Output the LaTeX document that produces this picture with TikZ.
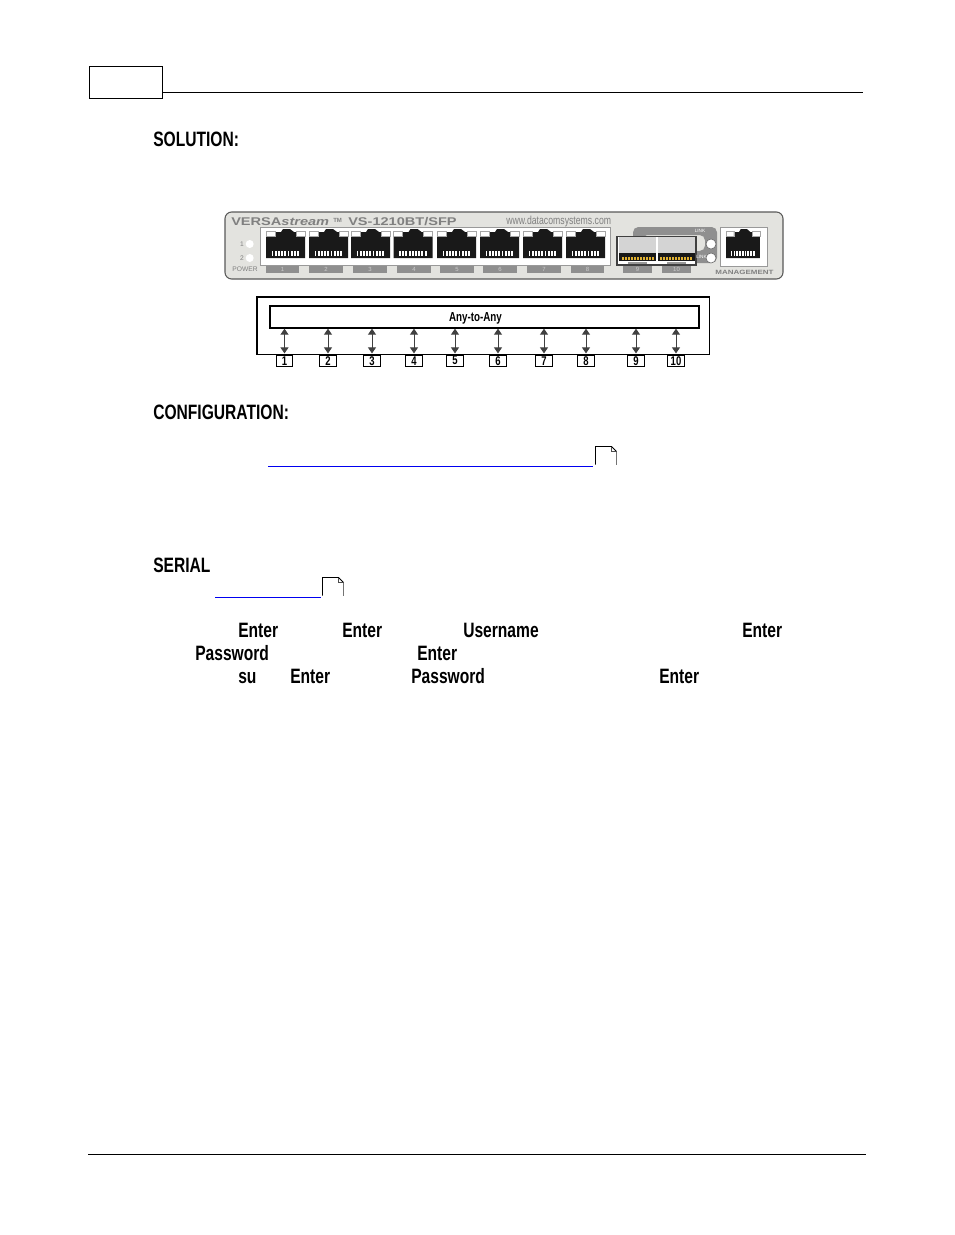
\documentclass[tikz,border=0pt]{standalone}
\usepackage{fontspec}
\setmainfont{Liberation Sans}
\newfontfamily\condf[FakeStretch=0.75]{Liberation Sans}
\newfontfamily\widef[FakeStretch=1.3]{Liberation Sans}
\usetikzlibrary{arrows.meta}
\definecolor{devfill}{HTML}{E3E3DF}
\definecolor{devtext}{HTML}{808080}
\definecolor{tabgrey}{HTML}{8F8F8F}
\definecolor{linkblue}{HTML}{0000F0}
\definecolor{gold}{HTML}{E0B030}
\tikzset{
  heading/.style={anchor=base west,inner sep=0pt,font=\condf\bfseries\fontsize{15.6}{18}\selectfont},
  bodykey/.style={heading},
  numbox/.style={draw=black,line width=0.75pt,fill=white,minimum width=12.5pt,minimum height=8.2pt,inner sep=0pt,font=\condf\bfseries\fontsize{9.5}{10}\selectfont},
  biarrow/.style={draw=black!75,line width=0.75pt,{Triangle[length=4.5pt,width=6pt]}-{Triangle[length=4.5pt,width=6pt]}},
  hline/.style={draw=black,line width=0.75pt},
  linkline/.style={draw=linkblue,line width=0.75pt},
  devlabel/.style={inner sep=0pt,text=devtext,font=\fontsize{5}{6}\selectfont},
  tab/.style={fill=tabgrey,draw=none,minimum height=5.2pt,inner sep=0pt,text=black!20,font=\fontsize{4.5}{5}\selectfont},
  rjport/.pic={
    \fill[black!90] (0,7)--(9,7)--(9,3)--(15,3)--(17,0)--(24,0)--(28,3)--(30,3)--(30,7)--(39,7)--(39,29)--(0,29)--cycle;
    \draw[black!35,line width=0.4pt] (0,2.5) rectangle (9,7);
    \draw[black!35,line width=0.4pt] (30,2.5) rectangle (39,7);
    \foreach \t in {0,...,8}{\fill[white] (5.5+\t*3.2,22) rectangle +(1.9,5);}
  },
  sfpcage/.pic={
    \fill[black!17] (0,0) rectangle (37,16);
    \fill[black!90] (0,16) rectangle (37,24);
    \foreach \t in {0,...,10}{\fill[gold] (2.5+\t*3,19.5) rectangle +(2,3.5);}
    \fill[white] (0,24) rectangle (37,27);
    \fill[black!40] (9,24.5) rectangle (28,26.5);
  },
  pagemark/.pic={
    \draw[black,line width=0.7pt] (0,18)--(0,0)--(16,0)--(21,5);
    \draw[black!55,line width=0.7pt] (21,5)--(21,18);
    \draw[black!70,line width=0.5pt] (16,0)--(16,5)--(21,5);
  }
}
\begin{document}
\begin{tikzpicture}[x=0.75pt,y=-0.75pt]
\useasboundingbox (0,0) rectangle (954,1235);
% page furniture
\node[draw=black,line width=0.8pt,fill=white,minimum width=54.7pt,minimum height=24.4pt,inner sep=0pt] (pagebox) at (125.7,82.5) {};
\coordinate (headend) at (863,92.5);
\draw[hline] (pagebox.east |- headend) -- (headend);
\coordinate (footl) at (88,1154.5); \coordinate (footr) at (866,1154.5);
\draw[hline] (footl) -- (footr);
% headings
\node[heading] (hsol) at (153,146) {SOLUTION:};
\node[heading] (hcfg) at (153,419) {CONFIGURATION:};
\node[heading] (hser) at (153,572) {SERIAL};
% device front panel
\draw[draw=black!65,fill=devfill,line width=0.8pt,rounded corners=5pt] (225,212) rectangle (783,279);
\node[anchor=base west,inner sep=0pt,text=devtext,font=\widef\bfseries\fontsize{8.4}{10}\selectfont] (brand) at (231,225) {VERSA\textit{stream}};
\node[anchor=base west,inner sep=0pt,text=devtext,font=\bfseries\fontsize{4.5}{6}\selectfont] (tm) at (333,222) {TM};
\node[anchor=base west,inner sep=0pt,text=devtext,font=\widef\bfseries\fontsize{8.4}{10}\selectfont] (model) at (348,225) {VS-1210BT/SFP};
\node[anchor=base west,inner sep=0pt,text=devtext,font=\condf\fontsize{8.7}{10}\selectfont] (web) at (506,224.5) {www.datacomsystems.com};
% LEDs
\node[devlabel] (l1) at (242,244) {1};
\node[devlabel] (l2) at (242,258) {2};
\node[circle,fill=white,minimum size=6pt,inner sep=0pt] (led1) at (249.7,244) {};
\node[circle,fill=white,minimum size=6pt,inner sep=0pt] (led2) at (249.7,258) {};
\node[devlabel] (lpow) at (245,269) {POWER};
% RJ45 panel
\draw[draw=black!40,fill=white,line width=0.5pt] (260,227) rectangle (610,265);
\foreach \px in {266,309,351,393.5,437,480,523,566}{\pic at (\px,229) {rjport};}
\foreach \n/\cx in {1/282.5,2/326,3/370,4/414,5/457,6/500,7/544,8/587.5}{
  \node[tab,minimum width=25pt] (tab\n) at (\cx,269.5) {\n};
}
% SFP link bracket
\fill[tabgrey,rounded corners=4pt] (633,242) -- (633,227) -- (717,227) -- (717,263) -- (690,263) -- (690,251) -- (705,251) -- (705,235) -- (642,235) -- (642,242) -- cycle;
\node[inner sep=0pt,text=white,font=\fontsize{3.5}{4}\selectfont] (lk1) at (700,231) {LINK};
\node[circle,draw=black!60,line width=0.4pt,fill=white,minimum size=7.5pt,inner sep=0pt] (linkc1) at (711,244) {};
\node[circle,draw=black!60,line width=0.4pt,fill=white,minimum size=7.5pt,inner sep=0pt] (linkc2) at (711,258) {};
% SFP cages
\draw[draw=black!75,fill=white,line width=0.9pt] (617,236.5) rectangle (696,265);
\node[inner sep=0pt,text=white,font=\fontsize{3.5}{4}\selectfont] (lk2) at (701.5,257) {LINK};
\pic at (619,237) {sfpcage};
\pic at (657.5,237) {sfpcage};
\node[tab,minimum width=21.7pt] (tab9) at (637.5,269.5) {9};
\node[tab,minimum width=21.7pt] (tab10) at (676.5,269.5) {10};
% management port
\draw[draw=black!40,fill=white,line width=0.5pt] (720,227) rectangle (767,266);
\pic[xscale=0.87] at (726,229) {rjport};
\node[inner sep=0pt,text=devtext,font=\widef\bfseries\fontsize{4.6}{6}\selectfont] (mgmt) at (744.5,272) {MANAGEMENT};
% any-to-any schematic
\node[draw=black,line width=0.8pt,minimum width=339.3pt,minimum height=42.8pt,inner sep=0pt] (outer) at (483.2,325.5) {};
\node[draw=black,line width=1pt,fill=white,minimum width=321.8pt,minimum height=16.5pt,inner sep=0pt] (bus) at (484.5,317) {};
\node[inner sep=0pt,anchor=base,font=\condf\bfseries\fontsize{9.8}{10}\selectfont] (anyany) at (475.5,321.5) {Any-to-Any};
\foreach \n/\cx in {1/284.5,2/328,3/372,4/414,5/455,6/498,7/544,8/586,9/636,10/676}{
  \node[numbox] (box\n) at (\cx,360.7) {\n};
  \draw[biarrow] (bus.south -| box\n.north) -- ([yshift=1pt]box\n.north);
}
% links
\coordinate (la) at (268,466); \coordinate (lb) at (593,466);
\draw[linkline] (la) -- (lb);
\pic at (595.5,446.5) {pagemark};
\coordinate (lc) at (215,597); \coordinate (ld) at (321,597);
\draw[linkline] (lc) -- (ld);
\pic at (322.5,577.5) {pagemark};
% body keywords
\node[bodykey] (e1) at (238,637) {Enter};
\node[bodykey] (e2) at (342,637) {Enter};
\node[bodykey] (u1) at (463,637) {Username};
\node[bodykey] (e3) at (742,637) {Enter};
\node[bodykey] (p1) at (195,660) {Password};
\node[bodykey] (e4) at (417,660) {Enter};
\node[bodykey] (s1) at (238,683) {su};
\node[bodykey] (e5) at (290,683) {Enter};
\node[bodykey] (p2) at (411,683) {Password};
\node[bodykey] (e6) at (659,683) {Enter};
\end{tikzpicture}
\end{document}
